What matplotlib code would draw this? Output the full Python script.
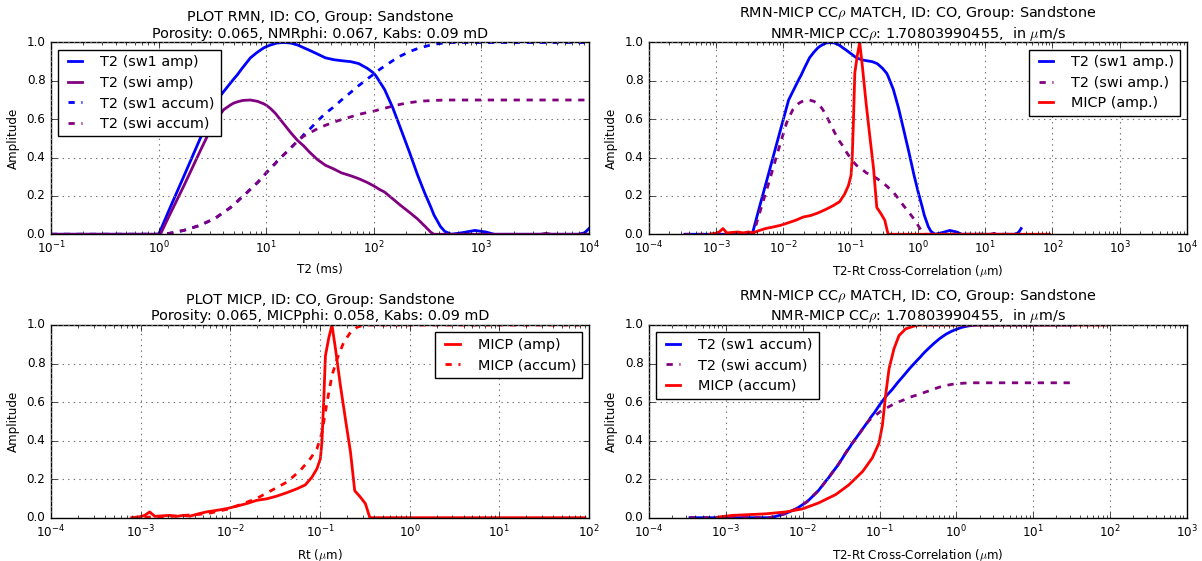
import matplotlib
matplotlib.use("Agg")
import matplotlib.pyplot as plt

plt.style.use("classic")
plt.rcParams.update({
    "font.size": 8.6,
    "figure.facecolor": "white",
    "savefig.facecolor": "white",
    "legend.fontsize": "large",
    "legend.handlelength": 1.6,
    "legend.handletextpad": 0.95,
    "legend.labelspacing": 0.45,
    "axes.titlesize": "large",
})

# Surface relaxivity from the NMR / MICP cross-correlation (um/s)
RHO = 1.70803990455

# ---- NMR T2 distributions (T2 in ms) ----
t2_ms = [0.1, 1.0, 1.04, 1.26, 1.71, 2.44, 3.25, 3.49, 4.04, 4.68, 5.0, 5.37,
         5.97, 6.17, 7.14, 8.32, 9.51, 10.2, 11.0, 12.2, 12.6, 14.6, 16.9,
         19.5, 20.9, 22.4, 25.1, 29.9, 35.5, 42.7, 50.1, 61.1, 72.4, 87.1,
         100, 105, 112, 126, 150, 178, 214, 255, 295, 340, 363, 417, 457,
         525, 661, 871, 1096, 1318, 3548, 3981, 4467, 7943, 9120, 10000]

sw1_amp = [0, 0, 0.02, 0.13, 0.30, 0.50, 0.66, 0.70, 0.745, 0.79, 0.81, 0.83,
           0.865, 0.875, 0.92, 0.95, 0.972, 0.98, 0.987, 0.995, 0.997, 1.0,
           0.997, 0.987, 0.98, 0.972, 0.96, 0.94, 0.92, 0.91, 0.905, 0.90,
           0.89, 0.865, 0.84, 0.825, 0.80, 0.755, 0.66, 0.55, 0.43, 0.31,
           0.22, 0.14, 0.10, 0.04, 0.015, 0, 0.008, 0.02, 0.012, 0, 0, 0, 0,
           0, 0.008, 0.03]

swi_amp = [0, 0, 0, 0.098, 0.25, 0.435, 0.58, 0.605, 0.65, 0.675, 0.684, 0.69,
           0.697, 0.698, 0.70, 0.693, 0.68, 0.67, 0.655, 0.63, 0.62, 0.575,
           0.53, 0.49, 0.475, 0.46, 0.43, 0.39, 0.36, 0.34, 0.32, 0.305, 0.29,
           0.27, 0.252, 0.245, 0.235, 0.22, 0.185, 0.15, 0.115, 0.08, 0.045,
           0.01, 0, 0, 0, 0, 0, 0, 0, 0, 0, 0.005, 0, 0, 0, 0]

sw1_accum = [0, 0, 0, 0.005, 0.02, 0.047, 0.08, 0.09, 0.115, 0.14, 0.155, 0.17,
             0.195, 0.20, 0.235, 0.27, 0.305, 0.325, 0.345, 0.37, 0.38, 0.415,
             0.45, 0.485, 0.50, 0.52, 0.545, 0.59, 0.63, 0.665, 0.70, 0.74,
             0.775, 0.81, 0.835, 0.845, 0.857, 0.877, 0.905, 0.93, 0.952,
             0.968, 0.978, 0.987, 0.99, 0.995, 0.997, 1.0, 1.0, 1.0, 1.0, 1.0,
             1.0, 1.0, 1.0, 1.0, 1.0, 1.0]

swi_accum = [0, 0, 0, 0.005, 0.02, 0.047, 0.08, 0.09, 0.115, 0.14, 0.155, 0.17,
             0.195, 0.20, 0.235, 0.27, 0.305, 0.325, 0.345, 0.37, 0.38, 0.415,
             0.45, 0.485, 0.50, 0.512, 0.527, 0.55, 0.568, 0.585, 0.598, 0.612,
             0.625, 0.635, 0.642, 0.645, 0.65, 0.657, 0.668, 0.678, 0.686,
             0.692, 0.695, 0.697, 0.698, 0.699, 0.70, 0.70, 0.70, 0.70, 0.70,
             0.70, 0.70, 0.70, 0.70, 0.70, 0.70, 0.70]

# ---- MICP pore-throat radius distribution (Rt in um) ----
micp_rt_um = [0.000794, 0.000975, 0.00111, 0.00126, 0.00144, 0.00178, 0.00211,
              0.00251, 0.00298, 0.00354, 0.00439, 0.00543, 0.00703, 0.0091,
              0.0118, 0.0152, 0.0197, 0.0255, 0.033, 0.0428, 0.0553, 0.0685,
              0.0813, 0.0925, 0.101, 0.105, 0.11, 0.115, 0.125, 0.136, 0.149,
              0.169, 0.192, 0.219, 0.244, 0.282, 0.321, 0.36, 1.0, 10.0, 90.0]
micp_amp = [0, 0.005, 0.012, 0.03, 0.007, 0.01, 0.012, 0.007, 0.012, 0.008,
            0.02, 0.03, 0.038, 0.047, 0.06, 0.073, 0.09, 0.098, 0.112, 0.13,
            0.15, 0.17, 0.21, 0.254, 0.306, 0.39, 0.60, 0.84, 0.93, 1.0, 0.876,
            0.686, 0.513, 0.34, 0.14, 0.107, 0.073, 0, 0, 0, 0]

micp_accum_rt_um = [0.000794, 0.0023, 0.00543, 0.0091, 0.0128, 0.0197, 0.0303,
                    0.0428, 0.0603, 0.078, 0.0925, 0.105, 0.12, 0.136, 0.155,
                    0.184, 0.219, 0.259, 0.308, 1.0, 10.0, 90.0]
micp_accum = [0, 0.008, 0.02, 0.043, 0.067, 0.10, 0.147, 0.185, 0.245, 0.306,
              0.357, 0.44, 0.60, 0.737, 0.824, 0.91, 0.962, 0.988, 1.0, 1.0,
              1.0, 1.0]

# MICP cumulative curve used in the cross-correlation panel
cc_micp_rt_um = [0.000794, 0.00122, 0.00331, 0.00603, 0.01, 0.0162, 0.0269,
                 0.0398, 0.0603, 0.0805, 0.0984, 0.109, 0.12, 0.133, 0.154,
                 0.179, 0.219, 0.295, 0.32, 90.0]
cc_micp_accum = [0.003, 0.012, 0.02, 0.03, 0.046, 0.077, 0.12, 0.17, 0.24,
                 0.31, 0.387, 0.48, 0.636, 0.773, 0.876, 0.945, 0.98, 0.997,
                 1.0, 1.0]

# T2 (ms) -> pore radius (um): r = 2 * rho * T2
t2_radius_um = [2.0 * RHO * t / 1000.0 for t in t2_ms]

BLUE = (0, 0, 1)
PURPLE = "#800080"
RED = (1, 0, 0)
LW = 2.0
DASH = (4.5, 4.8)

fig = plt.figure(figsize=(12.02, 5.61), dpi=100)
ax_rmn = fig.add_axes([0.0424, 0.5824, 0.4476, 0.3419])
ax_cc_amp = fig.add_axes([0.5399, 0.5824, 0.4476, 0.3419])
ax_micp = fig.add_axes([0.0424, 0.0772, 0.4476, 0.3435])
ax_cc_acc = fig.add_axes([0.5399, 0.0772, 0.4476, 0.3435])


def style_axes(ax, xmin, xmax):
    ax.set_xscale("log")
    ax.set_xlim(xmin, xmax)
    ax.set_ylim(0.0, 1.0)
    ax.set_yticks([0.0, 0.2, 0.4, 0.6, 0.8, 1.0])
    ax.grid(True, which="major", color="0.45", linestyle=":", linewidth=0.8)
    ax.set_ylabel("Amplitude")


TITLE_PAD = 3.5

# NMR T2 distributions
ax_rmn.plot(t2_ms, sw1_amp, color=BLUE, lw=LW, label="T2 (sw1 amp)")
ax_rmn.plot(t2_ms, swi_amp, color=PURPLE, lw=LW, label="T2 (swi amp)")
ax_rmn.plot(t2_ms, sw1_accum, color=BLUE, lw=LW, ls="--", dashes=DASH,
            label="T2 (sw1 accum)")
ax_rmn.plot(t2_ms, swi_accum, color=PURPLE, lw=LW, ls="--", dashes=DASH,
            label="T2 (swi accum)")
style_axes(ax_rmn, 1e-1, 1e4)
ax_rmn.set_xlabel("T2 (ms)")
ax_rmn.set_title("PLOT RMN, ID: CO, Group: Sandstone\n"
                 "Porosity: 0.065, NMRphi: 0.067, Kabs: 0.09 mD", pad=TITLE_PAD)
ax_rmn.legend(loc="upper left")

# Amplitude cross-correlation
ax_cc_amp.plot(t2_radius_um, sw1_amp, color=BLUE, lw=LW, label="T2 (sw1 amp.)")
ax_cc_amp.plot(t2_radius_um, swi_amp, color=PURPLE, lw=LW, ls="--",
               dashes=DASH, label="T2 (swi amp.)")
ax_cc_amp.plot(micp_rt_um, micp_amp, color=RED, lw=LW, label="MICP (amp.)")
style_axes(ax_cc_amp, 1e-4, 1e4)
ax_cc_amp.set_xlabel(r"T2-Rt Cross-Correlation ($\mu$m)")
ax_cc_amp.set_title("RMN-MICP CC$\\rho$ MATCH, ID: CO, Group: Sandstone\n"
                    "NMR-MICP CC$\\rho$: 1.70803990455,  in $\\mu$m/s",
                    pad=TITLE_PAD)
ax_cc_amp.legend(loc="upper right")

# MICP distribution
ax_micp.plot(micp_rt_um, micp_amp, color=RED, lw=LW, label="MICP (amp)")
ax_micp.plot(micp_accum_rt_um, micp_accum, color=RED, lw=LW, ls="--",
             dashes=DASH, label="MICP (accum)")
style_axes(ax_micp, 1e-4, 1e2)
ax_micp.set_xlabel(r"Rt ($\mu$m)")
ax_micp.set_title("PLOT MICP, ID: CO, Group: Sandstone\n"
                  "Porosity: 0.065, MICPphi: 0.058, Kabs: 0.09 mD",
                  pad=TITLE_PAD)
ax_micp.legend(loc="upper right")

# Cumulative cross-correlation
ax_cc_acc.plot(t2_radius_um, sw1_accum, color=BLUE, lw=LW,
               label="T2 (sw1 accum)")
ax_cc_acc.plot(t2_radius_um, swi_accum, color=PURPLE, lw=LW, ls="--",
               dashes=DASH, label="T2 (swi accum)")
ax_cc_acc.plot(cc_micp_rt_um, cc_micp_accum, color=RED, lw=LW,
               label="MICP (accum)")
style_axes(ax_cc_acc, 1e-4, 1e3)
ax_cc_acc.set_xlabel(r"T2-Rt Cross-Correlation ($\mu$m)")
ax_cc_acc.set_title("RMN-MICP CC$\\rho$ MATCH, ID: CO, Group: Sandstone\n"
                    "NMR-MICP CC$\\rho$: 1.70803990455,  in $\\mu$m/s",
                    pad=TITLE_PAD)
ax_cc_acc.legend(loc="upper left")

fig.savefig("out.png", dpi=100)
